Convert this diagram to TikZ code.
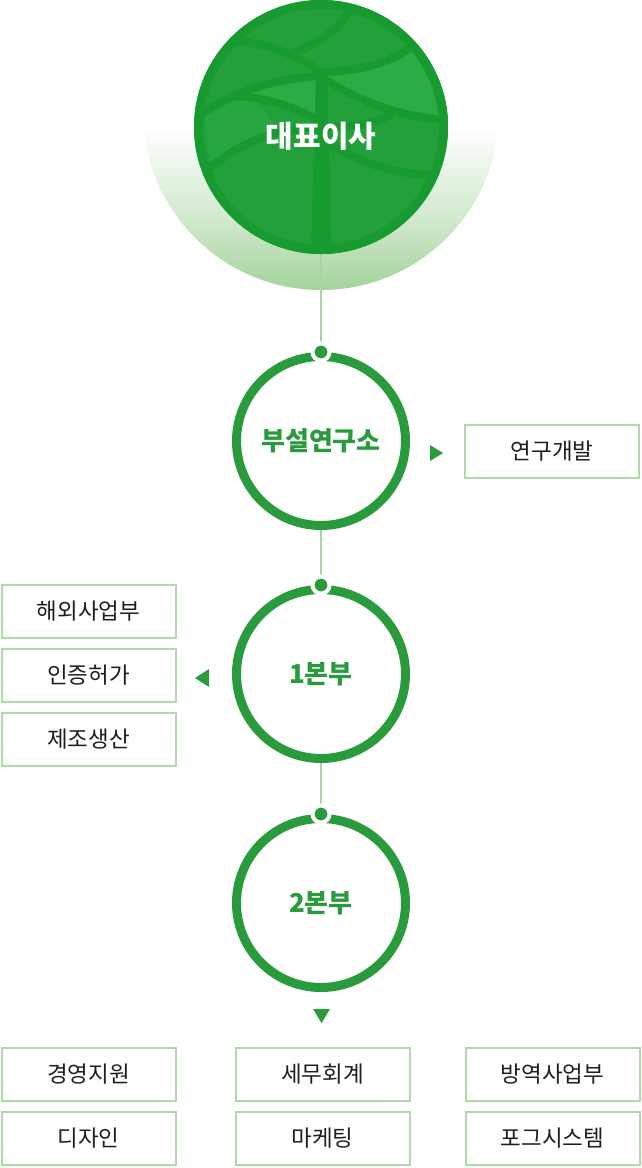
\documentclass[tikz,border=0pt]{standalone}
\usepackage{fontspec}
\setmainfont{Noto Sans CJK KR}
\usetikzlibrary{backgrounds}
\definecolor{ring}{HTML}{2A9B3C}
\definecolor{stem}{HTML}{A9D5A3}
\definecolor{boxline}{HTML}{B0DAAA}
\definecolor{leaf}{HTML}{23A03A}
\definecolor{leafdark}{HTML}{179A2F}
\definecolor{leaflight}{HTML}{2BAC45}
\definecolor{halo}{HTML}{A3D39B}
\definecolor{halomid}{HTML}{D1E9CD}
\definecolor{ink}{HTML}{1E1E1E}
\pgfdeclareverticalshading{halofade}{100bp}{color(0bp)=(halo); color(25bp)=(halo);
  color(35bp)=(halomid); color(48bp)=(white); color(100bp)=(white)}

\begin{document}
\begin{tikzpicture}[x=1pt,y=-1pt,
    dept/.style={circle,draw=ring,line width=9pt,minimum size=169pt,inner sep=0pt,
      text=ring,font=\fontsize{26}{30}\selectfont\bfseries},
    unit/.style={draw=boxline,line width=2pt,minimum width=174pt,minimum height=53pt,
      inner sep=0pt,text=ink,font=\fontsize{22.5}{26}\selectfont},
    pin/.style={circle,fill=ring,draw=white,line width=4pt,minimum size=17pt,inner sep=0pt},
    link/.style={draw=stem,line width=1.5pt},
    vein/.style={draw=leafdark,line width=8pt}]
    \useasboundingbox (0,0) rectangle (641,1168);

    \node[circle,fill=leaf,minimum size=254pt,inner sep=0pt] (ceo) at (321,127) {};
    \begin{scope}
      \clip (321,127) circle (127);
      \fill[leaflight] (320,72) .. controls (355,72) and (392,64) .. (412,45) -- (460,40)
        -- (460,122) .. controls (400,118) and (360,100) .. (327,80) -- cycle;
      \fill[leaflight] (233,95) .. controls (260,84) and (290,79) .. (316,78) -- (316,118)
        .. controls (290,104) and (262,96) .. (233,95) -- cycle;
      \fill[leaflight!60!leaf] (205,113) .. controls (225,100) and (240,96) .. (250,92)
        -- (280,133) .. controls (255,142) and (230,155) .. (210,170) -- cycle;
      \draw[vein] (198,116) .. controls (240,88) and (280,78) .. (322,76);
      \draw[vein] (232,40) .. controls (270,44) and (300,56) .. (320,72);
      \draw[vein] (290,54) .. controls (318,44) and (340,30) .. (352,6);
      \draw[vein] (320,72) .. controls (358,72) and (395,62) .. (414,44);
      \draw[vein] (324,79) .. controls (362,102) and (400,118) .. (452,120);
      \draw[vein] (230,96) .. controls (262,96) and (292,106) .. (318,120);
      \draw[vein] (205,172) .. controls (240,142) and (275,128) .. (322,128);
      \draw[vein] (326,128) .. controls (355,127) and (378,122) .. (392,114);
      \draw[vein] (326,142) .. controls (360,162) and (395,177) .. (452,176);
      \fill[leafdark] (316,74) -- (327,74) -- (332,260) -- (311,260) -- cycle;
    \end{scope}
    \draw[leafdark,line width=9pt] (ceo.center) circle (122.5);
    \node[text=white,font=\fontsize{30}{34}\selectfont\bfseries] (ceolabel) at (321,136) {대표이사};

    \path
    (321,441) node[dept] (lab) {부설연구소}
    (321,674) node[dept] (hq1) {1본부}
    (321,903) node[dept] (hq2) {2본부}
    ;
    \node[pin] (labpin) at (lab.north) {};
    \node[pin] (hq1pin) at (hq1.north) {};
    \node[pin] (hq2pin) at (hq2.north) {};

    \path
    (552,451.5) node[unit] (rnd) {연구개발}
    (88.5,611.5) node[unit] (overseas) {해외사업부}
    (88.5,675.5) node[unit] (permit) {인증허가}
    (88.5,739.5) node[unit] (factory) {제조생산}
    (88.5,1074.5) node[unit] (admin) {경영지원}
    (88.5,1138.5) node[unit] (design) {디자인}
    (322.5,1074.5) node[unit] (tax) {세무회계}
    (322.5,1138.5) node[unit] (marketing) {마케팅}
    (552.5,1074.5) node[unit] (defense) {방역사업부}
    (552.5,1138.5) node[unit] (fogsys) {포그시스템}
    ;

    \fill[ring] (430,445) -- (443,453) -- (430,461) -- cycle;
    \fill[ring] (209,669) -- (195,678) -- (209,687) -- cycle;
    \fill[ring] (313,1009) -- (330,1009) -- (321.5,1023) -- cycle;

    \begin{scope}[on background layer]
      \clip (0,0) rectangle (641,1168);
      \shade[shading=halofade] (321,112) circle (178);
      \draw[link] (ceo) -- (lab);
      \draw[link] (lab) -- (hq1);
      \draw[link] (hq1) -- (hq2);
    \end{scope}
\end{tikzpicture}
\end{document}
